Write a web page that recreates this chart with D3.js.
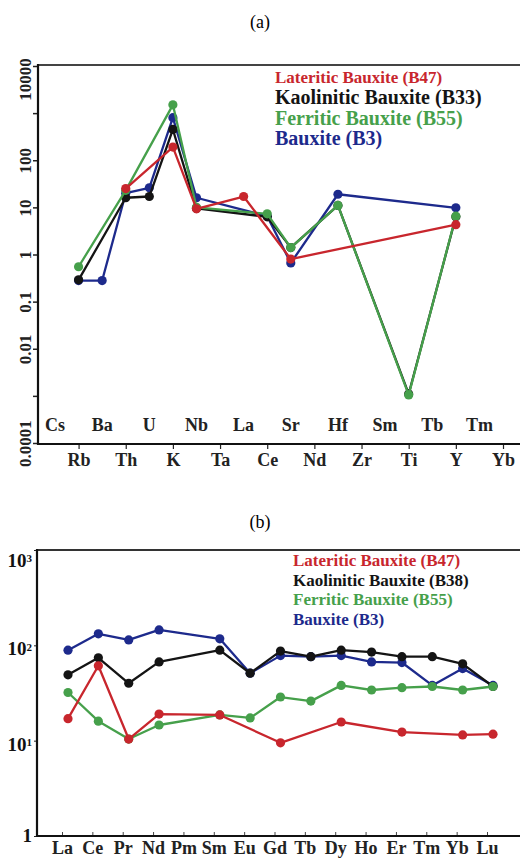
<!DOCTYPE html>
<html>
<head>
<meta charset="utf-8">
<script src="https://cdn.jsdelivr.net/npm/d3@7"></script>
<style>
  body { margin: 0; background: #fff; }
  svg { display: block; }
</style>
</head>
<body>
<script>
// panel (a): spider diagram, trace elements
const elementsA = ["Cs", "Rb", "Ba", "Th", "U", "K", "Nb", "Ta", "La", "Ce",
                   "Sr", "Nd", "Hf", "Zr", "Sm", "Ti", "Tb", "Y", "Tm", "Yb"];
const lateriticA  = [null, null, null, 25, null, 190, 9.3, null, 17, null, 0.8, null, null, null, null, null, null, 4.3, null, null];
const kaoliniticA = [null, 0.29, null, 16, 17, 450, 9.5, null, null, 6.3, 1.4, null, 11, null, null, 0.0011, null, 6.3, null, null];
const ferriticA   = [null, 0.55, null, 23, null, 1500, 10, null, null, 7.3, 1.4, null, 11, null, null, 0.00105, null, 6.5, null, null];
const bauxiteA    = [null, 0.28, 0.28, 20, 26, 800, 16, null, null, 6.5, 0.66, null, 19, null, null, null, null, 9.8, null, null];
const yTicksA = [1e-4, 1e-3, 1e-2, 1e-1, 1, 10, 100, 1000, 10000];
const yLabelsA = {"0.0001": "0.0001", "0.01": "0.01", "0.1": "0.1", "1": "1", "10": "10", "100": "100", "10000": "10000"};
const legendA = ["Lateritic Bauxite (B47)", "Kaolinitic Bauxite (B33)", "Ferritic Bauxite (B55)", "Bauxite (B3)"];

// panel (b): REE pattern
const elementsB = ["La", "Ce", "Pr", "Nd", "Pm", "Sm", "Eu", "Gd", "Tb", "Dy", "Ho", "Er", "Tm", "Yb", "Lu"];
const lateriticB  = [17, 61, 10.4, 19, null, 18.6, null, 9.5, null, 15.7, null, 12.3, null, 11.5, 11.7];
const kaoliniticB = [49, 74, 40, 67, null, 89, 51, 87, 76, 89, 85, 76, 76, 64, 37];
const ferriticB   = [32, 16, 10.4, 14.6, null, 18.6, 17.3, 28.7, 26, 38, 34, 36, 37, 34, 37];
const bauxiteB    = [89, 132, 114, 145, null, 117, 51, 78, 76, 78, 67, 66, 38, 57, 38];
const yTicksB = [1, 10, 100, 1000];
const legendB = ["Lateritic Bauxite (B47)", "Kaolinitic Bauxite (B38)", "Ferritic Bauxite (B55)", "Bauxite (B3)"];

const font = "'Liberation Serif', 'Times New Roman', serif";
const colors = ["#c8262d", "#141414", "#46a04b", "#1d2a8c"]; // lateritic, kaolinitic, ferritic, bauxite
const drawOrder = [3, 1, 2, 0];

const svg = d3.select("body").append("svg")
  .attr("width", 520)
  .attr("height", 858)
  .style("font-family", font);

svg.append("text").attr("x", 260).attr("y", 28).attr("text-anchor", "middle")
  .attr("font-size", 18).text("(a)");
svg.append("text").attr("x", 260).attr("y", 528).attr("text-anchor", "middle")
  .attr("font-size", 18).text("(b)");

const series = (elements, values) => elements
  .map((e, i) => ({ e, v: values[i] }))
  .filter(d => d.v != null);

function drawSeries(g, x, y, allValues, elements) {
  let line = d3.line().x(d => x(d.e)).y(d => y(d.v));
  drawOrder.forEach(k => {
    let pts = series(elements, allValues[k]);
    g.append("path")
      .attr("d", line(pts))
      .attr("fill", "none")
      .attr("stroke", colors[k])
      .attr("stroke-width", 2.3)
      .attr("stroke-linejoin", "round");
    g.selectAll(null)
      .data(pts)
      .join("circle")
      .attr("cx", d => x(d.e))
      .attr("cy", d => y(d.v))
      .attr("r", 4.6)
      .attr("fill", colors[k]);
  });
}

function drawLegend(g, labels, x0, baselines, sizes) {
  g.selectAll(null)
    .data(labels)
    .join("text")
    .attr("x", x0)
    .attr("y", (d, i) => baselines[i])
    .attr("font-size", (d, i) => sizes[i])
    .attr("font-weight", "bold")
    .attr("font-family", font)
    .attr("fill", (d, i) => colors[i])
    .text(d => d);
}

// ---------- panel (a) ----------
{
  const left = 38, top = 66, bottom = 444;
  const x = d3.scalePoint(elementsA, [55, 503]);
  const y = d3.scaleLog([1e-4, 1e4], [443, top]);
  const g = svg.append("g");

  g.append("line").attr("x1", left).attr("x2", 520).attr("y1", top - 1).attr("y2", top - 1)
    .attr("stroke", "#444").attr("stroke-width", 2.2);

  const yAxis = g.append("g")
    .attr("transform", `translate(${left},0)`)
    .call(d3.axisLeft(y).tickValues(yTicksA).tickSize(5).tickSizeOuter(0)
      .tickFormat(d => yLabelsA[String(d)] || ""));
  yAxis.select(".domain").remove();
  yAxis.selectAll(".tick line").attr("stroke", "#222").attr("stroke-width", 1.5);
  yAxis.selectAll(".tick text")
    .attr("x", null).attr("dy", null)
    .attr("text-anchor", "middle")
    .attr("transform", d => `translate(-7,${d === 10000 ? 13 : 0}) rotate(-90)`)
    .attr("font-family", font).attr("font-size", 17).attr("font-weight", "bold").attr("fill", "#222");

  const xAxis = g.append("g")
    .attr("transform", `translate(0,${bottom})`)
    .call(d3.axisBottom(x).tickValues(elementsA.filter((d, i) => i % 2 === 1)).tickSize(5).tickPadding(4));
  xAxis.select(".domain").remove();
  xAxis.selectAll(".tick line").attr("stroke", "#222").attr("stroke-width", 1.2);
  xAxis.selectAll(".tick text")
    .attr("font-family", font).attr("font-size", 18).attr("font-weight", "bold").attr("fill", "#222");

  g.selectAll(null)
    .data(elementsA.filter((d, i) => i % 2 === 0))
    .join("text")
    .attr("x", d => x(d))
    .attr("y", 431)
    .attr("text-anchor", "middle")
    .attr("font-size", 18).attr("font-weight", "bold").attr("fill", "#222")
    .text(d => d);

  g.append("line").attr("x1", left).attr("x2", left).attr("y1", top - 2).attr("y2", bottom + 1)
    .attr("stroke", "#111").attr("stroke-width", 2.2);
  g.append("line").attr("x1", left).attr("x2", 520).attr("y1", bottom).attr("y2", bottom)
    .attr("stroke", "#111").attr("stroke-width", 2.2);

  drawSeries(g, x, y, [lateriticA, kaoliniticA, ferriticA, bauxiteA], elementsA);
  drawLegend(g, legendA, 275, [83, 104, 125, 145], [17, 20, 20, 20]);
}

// ---------- panel (b) ----------
{
  const left = 37, top = 550, bottom = 836;
  const x = d3.scalePoint(elementsB, [68, 493]);
  const y = d3.scaleLog([1, 1000], [bottom, top]);
  const g = svg.append("g");

  g.append("line").attr("x1", left).attr("x2", 520).attr("y1", top).attr("y2", top)
    .attr("stroke", "#333").attr("stroke-width", 2);

  const yAxis = g.append("g")
    .attr("transform", `translate(${left},0)`)
    .call(d3.axisLeft(y).tickValues(yTicksB).tickSize(3).tickSizeOuter(0).tickFormat(() => ""));
  yAxis.select(".domain").remove();
  yAxis.selectAll(".tick line").attr("stroke", "#222");
  yAxis.selectAll(".tick text").remove();
  yAxis.selectAll(".tick").each(function (d) {
    let t = d3.select(this).append("text")
      .attr("x", -5)
      .attr("y", d === 1000 ? 10 : d === 1 ? -1 : 3)
      .attr("dy", "0.35em")
      .attr("text-anchor", "end")
      .attr("font-family", font).attr("font-weight", "bold").attr("fill", "#111")
      .attr("font-size", 19);
    if (d === 1) {
      t.text("1");
    } else {
      t.append("tspan").text("10");
      t.append("tspan").attr("dy", "-0.45em").attr("font-size", 11).text(Math.round(Math.log10(d)));
    }
  });

  // tick marks sit a little left of the points in the original
  const xAxis = g.append("g")
    .attr("transform", `translate(-6,${bottom})`)
    .call(d3.axisBottom(x).tickSize(-4).tickPadding(5));
  xAxis.select(".domain").remove();
  xAxis.selectAll(".tick line").attr("stroke", "#444").attr("stroke-width", 1);
  xAxis.selectAll(".tick text")
    .attr("font-family", font).attr("font-size", 18).attr("font-weight", "bold").attr("fill", "#222");

  g.append("line").attr("x1", left).attr("x2", left).attr("y1", top - 1).attr("y2", bottom + 1)
    .attr("stroke", "#111").attr("stroke-width", 2.2);
  g.append("line").attr("x1", left).attr("x2", 520).attr("y1", bottom).attr("y2", bottom)
    .attr("stroke", "#111").attr("stroke-width", 2.2);

  drawSeries(g, x, y, [lateriticB, kaoliniticB, ferriticB, bauxiteB], elementsB);
  drawLegend(g, legendB, 293, [566, 586, 605, 625], [17, 17, 17, 17]);
}
</script>
</body>
</html>
